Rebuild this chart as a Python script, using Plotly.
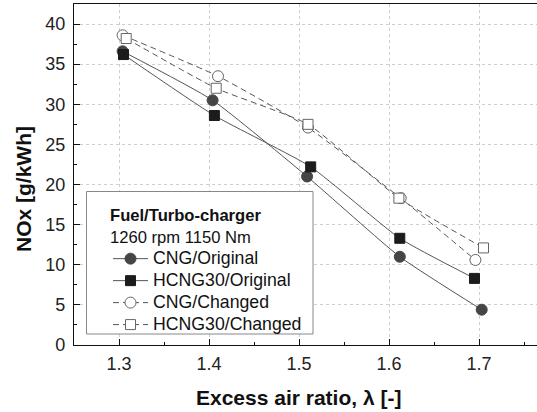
import plotly.graph_objects as go

# Excess air ratio (lambda) at each operating point, per series
lam_cng_orig = [1.304, 1.404, 1.509, 1.612, 1.703]
lam_hcng_orig = [1.305, 1.406, 1.513, 1.612, 1.695]
lam_cng_chg = [1.304, 1.410, 1.510, 1.613, 1.696]
lam_hcng_chg = [1.308, 1.408, 1.510, 1.611, 1.705]

# NOx emissions [g/kWh]
nox_cng_orig = [36.6, 30.5, 21.0, 11.0, 4.4]
nox_hcng_orig = [36.2, 28.6, 22.2, 13.3, 8.3]
nox_cng_chg = [38.6, 33.5, 27.1, 18.3, 10.6]
nox_hcng_chg = [38.2, 32.0, 27.5, 18.3, 12.1]

series_names = ["CNG/Original", "HCNG30/Original", "CNG/Changed", "HCNG30/Changed"]
legend_heading = ["Fuel/Turbo-charger", "1260 rpm 1150 Nm"]

FONT = "Liberation Sans, Arial, sans-serif"
LINE_C = "#555555"

W, H = 537, 412
pl, pr, pt, pb = 74, 0, 4, 67
pw, ph = W - pl - pr, H - pt - pb


def px_x(v):
    return (v - pl) / pw


def px_y(v):
    return (pt + ph - v) / ph


fig = go.Figure()

styles = [
    (lam_cng_orig, nox_cng_orig, "solid", "circle", "#454545", "#454545"),
    (lam_hcng_orig, nox_hcng_orig, "solid", "square", "#1c1c1c", "#1c1c1c"),
    (lam_cng_chg, nox_cng_chg, "6px,4px", "circle", "white", "#666666"),
    (lam_hcng_chg, nox_hcng_chg, "6px,4px", "square", "white", "#666666"),
]

for name, (xs, ys, dash, sym, fill, edge) in zip(series_names, styles):
    fig.add_trace(go.Scatter(
        x=xs, y=ys, mode="lines+markers",
        name=f"<span style='font-size:17.7px'>{name}</span>",
        line=dict(color=LINE_C, width=1, dash=dash, shape="spline", smoothing=0.5),
        marker=dict(symbol=sym, size=11 if sym == "circle" else 10,
                    color=fill, line=dict(color=edge, width=1)),
    ))

fig.update_layout(
    width=W, height=H,
    margin=dict(l=pl, r=pr, t=pt, b=pb),
    paper_bgcolor="white", plot_bgcolor="white",
    font=dict(family=FONT, size=18, color="#222222"),
    showlegend=True,
    legend=dict(
        x=px_x(108), y=px_y(199.5), xanchor="left", yanchor="top",
        bgcolor="rgba(0,0,0,0)", borderwidth=0,
        font=dict(family=FONT, size=14.6, color="#111111"),
        title=dict(text=f"<b>{legend_heading[0]}</b><br>{legend_heading[1]}",
                   font=dict(family=FONT, size=16.6, color="#111111")),
        tracegroupgap=0, itemwidth=35,
    ),
    xaxis=dict(
        range=[1.25, 1.25 + pw / 900], tickvals=[1.3, 1.4, 1.5, 1.6, 1.7],
        ticktext=["1.3", "1.4", "1.5", "1.6", "1.7"],
        ticks="inside", ticklen=6, tickwidth=1, tickcolor="#111",
        ticklabelstandoff=2,
        minor=dict(dtick=0.05, tick0=1.25, ticks="inside", ticklen=3, tickcolor="#111", showgrid=False),
        showline=True, linecolor="#111", linewidth=1.2, mirror=True,
        showgrid=True, gridcolor="#cfcfcf", griddash="dot", gridwidth=1,
        zeroline=False,
    ),
    yaxis=dict(
        range=[0, 42.5], tickvals=[0, 5, 10, 15, 20, 25, 30, 35, 40],
        ticks="inside", ticklen=6, tickwidth=1, tickcolor="#111",
        ticklabelstandoff=4,
        minor=dict(dtick=2.5, tick0=0, ticks="inside", ticklen=3, tickcolor="#111", showgrid=False),
        showline=True, linecolor="#111", linewidth=1.2,
        showgrid=True, gridcolor="#cfcfcf", griddash="dot", gridwidth=1,
        zeroline=False,
    ),
)

# Legend frame (white box covering the grid behind the legend)
fig.add_shape(type="rect", xref="paper", yref="paper",
              x0=px_x(86.5), x1=px_x(313), y0=px_y(334), y1=px_y(191.5),
              fillcolor="white", line=dict(color="#888888", width=1), layer="above")

# Axis titles placed in pixel terms relative to the plot area
fig.add_annotation(text="<b>Excess air ratio, λ [-]</b>",
                   x=px_x(298), y=px_y(397),
                   xref="paper", yref="paper", showarrow=False,
                   xanchor="center", yanchor="middle",
                   font=dict(family=FONT, size=21, color="#111"))
fig.add_annotation(text="<b>NOx [g/kWh]</b>", textangle=-90,
                   x=px_x(23), y=px_y(189),
                   xref="paper", yref="paper", showarrow=False,
                   xanchor="center", yanchor="middle",
                   font=dict(family=FONT, size=21, color="#111"))

fig.write_html("out.html")
